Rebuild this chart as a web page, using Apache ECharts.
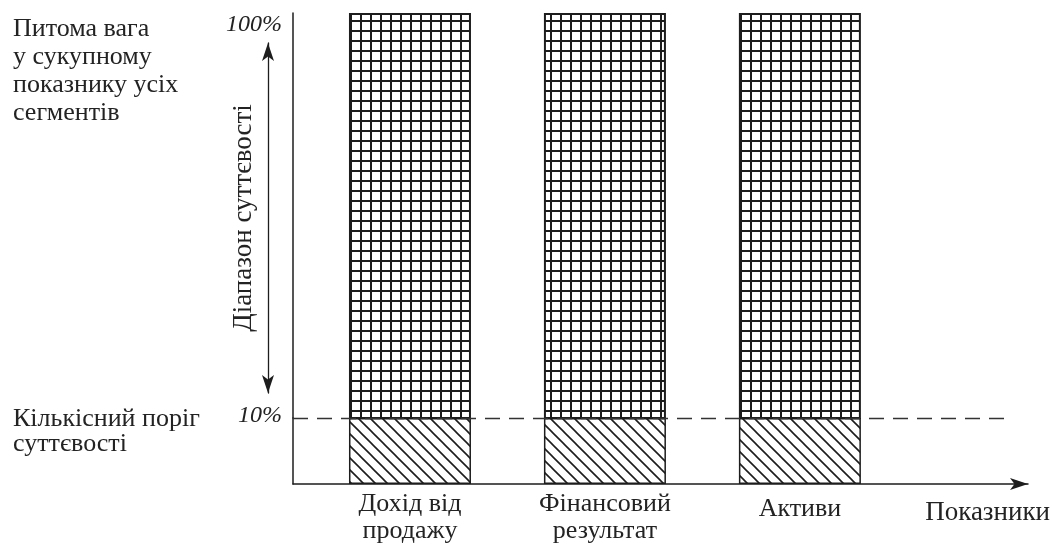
<!DOCTYPE html>
<html>
<head>
<meta charset="utf-8">
<script src="https://cdn.jsdelivr.net/npm/echarts@6/dist/echarts.min.js"></script>
<style>
  html, body { margin: 0; padding: 0; background: #fff; }
  #chart { width: 1052px; height: 545px; }
</style>
</head>
<body>
<div id="chart"></div>
<script>
// показники (категорії по осі X)
const categories = ['Дохід від\nпродажу', 'Фінансовий\nрезультат', 'Активи'];
// кількісний поріг суттєвості, %
const threshold = [10, 10, 10];
// сукупний показник, %
const totals = [100, 100, 100];
const yTickLabels = ['10%', '100%'];

const serif = 'Liberation Serif, DejaVu Serif, serif';
const ink = '#1d1d1d';
const textInk = '#232323';

// візерунки заливки
function gridPattern() {
  const c = document.createElement('canvas');
  c.width = 10; c.height = 10;
  const g = c.getContext('2d');
  g.fillStyle = '#fff';
  g.fillRect(0, 0, 10, 10);
  g.fillStyle = ink;
  g.fillRect(0, 0, 2, 10);
  g.fillRect(0, 0, 10, 2);
  return c;
}
function hatchPattern() {
  const s = 12;
  const c = document.createElement('canvas');
  c.width = s; c.height = s;
  const g = c.getContext('2d');
  g.fillStyle = '#fff';
  g.fillRect(0, 0, s, s);
  g.strokeStyle = ink;
  g.lineWidth = 1.6;
  g.beginPath();
  g.moveTo(-2, -2); g.lineTo(s + 2, s + 2);
  g.moveTo(-2, s - 2); g.lineTo(2, s + 2);
  g.moveTo(s - 2, -2); g.lineTo(s + 2, 2);
  g.stroke();
  return c;
}

const xMin = 0.4, xMax = 4.17;
const pos = categories.map((c, i) => i + 1);

let chart = echarts.init(document.getElementById('chart'));
chart.setOption({
  animation: false,
  backgroundColor: '#fff',
  title: [
    {
      text: 'Питома вага\nу сукупному\nпоказнику усіх\nсегментів',
      left: 8, top: 10,
      textStyle: { fontFamily: serif, fontSize: 26, lineHeight: 28, fontWeight: 'normal', color: textInk }
    },
    {
      text: 'Кількісний поріг\nсуттєвості',
      left: 8, top: 402,
      textStyle: { fontFamily: serif, fontSize: 26, lineHeight: 25, fontWeight: 'normal', color: textInk }
    }
  ],
  grid: [
    { left: 293, right: 24, top: 13, bottom: 127 },
    { left: 293, right: 24, top: 418, bottom: 58 },
    { left: 268, width: 10, top: 43, height: 350 }
  ],
  xAxis: [
    { gridIndex: 0, type: 'value', min: xMin, max: xMax, show: false },
    {
      gridIndex: 1, type: 'value', min: xMin, max: xMax,
      splitLine: { show: false },
      axisTick: { show: false },
      axisLine: { show: true, symbol: ['none', 'arrow'], symbolSize: [9, 18], lineStyle: { color: ink, width: 1.5 } },
      axisLabel: {
        customValues: pos,
        margin: 7,
        fontFamily: serif, fontSize: 26, lineHeight: 27, color: textInk,
        formatter: v => {
          const t = categories[Math.round(v) - 1];
          return t.indexOf('\n') < 0 ? '{one|' + t + '}' : t;
        },
        rich: { one: { fontFamily: serif, fontSize: 26, color: textInk, padding: [10, 0, 0, 0] } }
      },
      name: 'Показники',
      nameLocation: 'end',
      nameGap: 22,
      nameTextStyle: { fontFamily: serif, fontSize: 27, color: textInk, align: 'right', verticalAlign: 'top', padding: [15, 0, 0, 0] }
    },
    { gridIndex: 2, type: 'value', min: 0, max: 1, show: false }
  ],
  yAxis: [
    {
      gridIndex: 0, type: 'value', min: 10, max: 100,
      splitLine: { show: false },
      axisTick: { show: false },
      axisLine: { show: true, lineStyle: { color: ink, width: 1.5 } },
      axisLabel: {
        customValues: [100], margin: 11, verticalAlign: 'top',
        fontFamily: serif, fontStyle: 'italic', fontSize: 24, color: textInk,
        formatter: () => yTickLabels[1]
      }
    },
    {
      gridIndex: 1, type: 'value', min: 0, max: 10,
      splitLine: { show: false },
      axisTick: { show: false },
      axisLine: { show: true, lineStyle: { color: ink, width: 1.5 } },
      axisLabel: {
        customValues: [10], margin: 11, verticalAlign: 'bottom',
        fontFamily: serif, fontStyle: 'italic', fontSize: 24, color: textInk,
        padding: [0, 0, -10, 0],
        formatter: () => yTickLabels[0]
      }
    },
    {
      gridIndex: 2, type: 'value', min: 0, max: 1, position: 'left',
      splitLine: { show: false },
      axisTick: { show: false },
      axisLabel: { show: false },
      axisLine: { show: true, symbol: ['arrow', 'arrow'], symbolSize: [9, 18], lineStyle: { color: ink, width: 1.3 } },
      name: 'Діапазон суттєвості',
      nameLocation: 'middle',
      nameRotate: 90,
      nameGap: 11,
      nameTextStyle: { fontFamily: serif, fontSize: 27, color: textInk }
    }
  ],
  series: [
    {
      name: 'Діапазон суттєвості',
      type: 'bar',
      xAxisIndex: 0, yAxisIndex: 0,
      clip: true,
      barWidth: 122,
      data: pos.map((x, i) => [x, totals[i]]),
      itemStyle: { color: { image: gridPattern(), repeat: 'repeat' }, borderColor: ink, borderWidth: 2 }
    },
    {
      name: 'Кількісний поріг',
      type: 'bar',
      xAxisIndex: 1, yAxisIndex: 1,
      barWidth: 122,
      data: pos.map((x, i) => [x, threshold[i]]),
      itemStyle: { color: { image: hatchPattern(), repeat: 'repeat' }, borderColor: ink, borderWidth: 1.5 },
      markLine: {
        silent: true,
        symbol: 'none',
        label: { show: false },
        lineStyle: { color: '#333', width: 1.3, type: [15, 9] },
        data: [[{ coord: [xMin, threshold[0]] }, { coord: [xMax - 0.08, threshold[0]] }]]
      }
    }
  ]
});
</script>
</body>
</html>
